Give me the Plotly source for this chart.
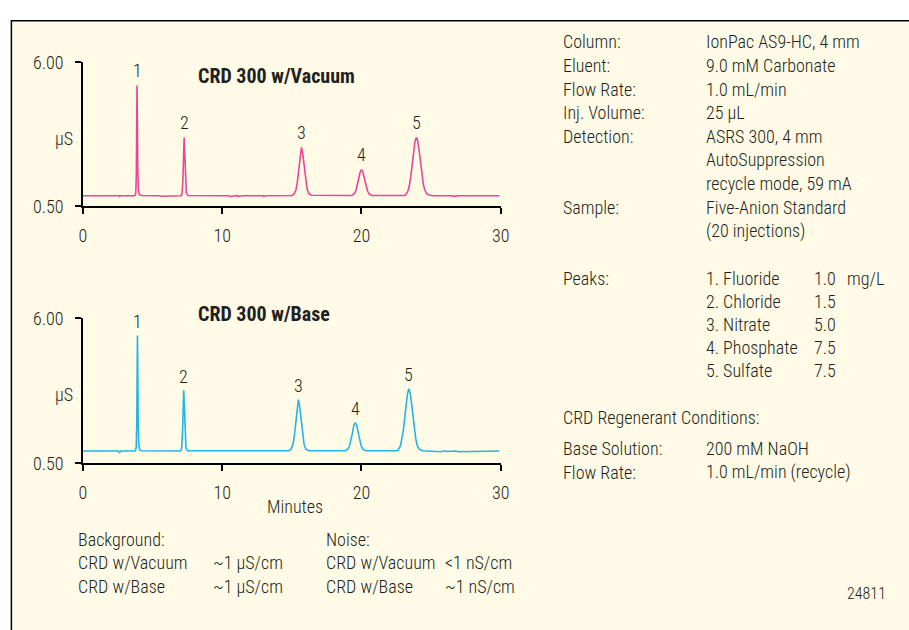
import plotly.graph_objects as go

W, H = 909, 630
FONT = "Roboto Condensed, Liberation Sans Narrow, DejaVu Sans Condensed, sans-serif"
TXT = "#231f20"
WT = 300

# ---------------- data ----------------
vac_time = [0.0, 1.0, 2.6, 2.65, 2.7, 3.6,
            3.74, 3.80, 3.84, 3.87, 3.89, 3.91, 3.94, 3.98, 4.05, 4.2,
            5.5, 5.6, 7.05, 7.12, 7.18, 7.23, 7.27, 7.31, 7.36, 7.43, 7.55,
            10.5, 10.6, 11.0, 11.1, 11.5, 12.9, 13.0, 13.1,
            15.0, 15.15, 15.3, 15.4, 15.5, 15.6, 15.69, 15.78, 15.88, 15.98, 16.1, 16.22, 16.4,
            19.3, 19.5, 19.6, 19.7, 19.8, 19.9, 20.0, 20.1, 20.2, 20.3, 20.42, 20.55, 20.75,
            23.1, 23.2, 23.34, 23.44, 23.54, 23.64, 23.74, 23.84, 23.94, 24.04, 24.14, 24.24,
            24.34, 24.44, 24.55, 24.7, 24.9, 25.2, 26.5, 26.6, 27.0, 29.9]
vac_signal = [0.90, 0.90, 0.90, 0.87, 0.90, 0.90,
              0.91, 1.00, 1.80, 3.90, 5.11, 4.00, 2.00, 1.15, 0.95, 0.91,
              0.90, 0.88, 0.90, 0.98, 1.50, 2.60, 3.12, 2.60, 1.50, 1.00, 0.91,
              0.90, 0.87, 0.91, 0.88, 0.90, 0.90, 0.87, 0.90,
              0.91, 0.96, 1.13, 1.45, 1.98, 2.50, 2.75, 2.52, 2.02, 1.52, 1.15, 0.99, 0.92,
              0.91, 0.99, 1.10, 1.29, 1.55, 1.80, 1.90, 1.81, 1.58, 1.33, 1.10, 0.97, 0.91,
              0.91, 0.95, 1.09, 1.30, 1.64, 2.10, 2.59, 2.98, 3.13, 2.99, 2.61, 2.13,
              1.68, 1.34, 1.11, 0.97, 0.92, 0.90, 0.90, 0.88, 0.90, 0.90]

base_time = [0.0, 1.0, 2.55, 2.64, 2.75, 3.6,
             3.77, 3.83, 3.87, 3.90, 3.92, 3.94, 3.97, 4.01, 4.08, 4.2,
             7.02, 7.09, 7.15, 7.20, 7.24, 7.28, 7.33, 7.40, 7.52,
             14.8, 14.93, 15.08, 15.18, 15.28, 15.38, 15.47, 15.56, 15.66, 15.76, 15.88, 16.0, 16.2,
             18.85, 19.05, 19.15, 19.25, 19.35, 19.45, 19.55, 19.65, 19.75, 19.85, 19.97, 20.1, 20.3,
             22.55, 22.65, 22.8, 22.9, 23.0, 23.1, 23.2, 23.3, 23.40, 23.5, 23.6, 23.7,
             23.8, 23.9, 24.01, 24.16, 24.36, 24.7, 25.6, 25.7, 26.0, 26.1, 26.8, 26.9, 29.9]
base_signal = [0.97, 0.97, 0.97, 0.91, 0.97, 0.97,
               0.98, 1.10, 2.00, 4.20, 5.35, 4.20, 2.10, 1.22, 1.01, 0.98,
               0.97, 1.05, 1.60, 2.75, 3.27, 2.75, 1.60, 1.08, 0.98,
               0.98, 1.03, 1.21, 1.54, 2.10, 2.64, 2.92, 2.66, 2.13, 1.59, 1.22, 1.05, 0.98,
               0.98, 1.06, 1.18, 1.37, 1.65, 1.94, 2.05, 1.95, 1.70, 1.42, 1.18, 1.03, 0.98,
               0.98, 1.02, 1.17, 1.39, 1.73, 2.21, 2.72, 3.14, 3.33, 3.15, 2.75, 2.25,
               1.78, 1.42, 1.17, 1.03, 0.98, 0.97, 0.97, 0.94, 0.98, 0.95, 0.97, 0.94, 0.97]

peak_ids = ["1", "2", "3", "4", "5"]
vac_peak_time = [3.89, 7.27, 15.69, 20.0, 23.94]
vac_peak_height = [5.11, 3.12, 2.75, 1.90, 3.13]
base_peak_time = [3.92, 7.24, 15.47, 19.55, 23.40]
base_peak_height = [5.35, 3.27, 2.92, 2.05, 3.33]

x_ticks = [0, 10, 20, 30]
y_ticks = [0.5, 6.0]
y_tick_text = ["0.50", "6.00"]

cond_labels = ["Column:", "Eluent:", "Flow Rate:", "Inj. Volume:", "Detection:", "", "", "Sample:", ""]
cond_values = ["IonPac AS9-HC, 4 mm", "9.0 mM Carbonate", "1.0 mL/min", "25 µL",
               "ASRS 300, 4 mm", "AutoSuppression", "recycle mode, 59 mA",
               "Five-Anion Standard", "(20 injections)"]
peak_names = ["1. Fluoride", "2. Chloride", "3. Nitrate", "4. Phosphate", "5. Sulfate"]
peak_conc = ["1.0", "1.5", "5.0", "7.5", "7.5"]
conc_unit = "mg/L"
regen_labels = ["Base Solution:", "Flow Rate:"]
regen_values = ["200 mM NaOH", "1.0 mL/min (recycle)"]
bg_rows = [("Background:", ""), ("CRD w/Vacuum", "~1 µS/cm"), ("CRD w/Base", "~1 µS/cm")]
noise_rows = [("Noise:", ""), ("CRD w/Vacuum", "<1 nS/cm"), ("CRD w/Base", "~1 nS/cm")]

# ---------------- helpers ----------------
def px(x):
    return x / W

def py(y):
    return 1 - y / H

fig = go.Figure()
fig.add_trace(go.Scatter(x=vac_time, y=vac_signal, mode="lines",
                         line=dict(color="#ec4595", width=1.6), xaxis="x", yaxis="y",
                         hoverinfo="skip", showlegend=False))
fig.add_trace(go.Scatter(x=base_time, y=base_signal, mode="lines",
                         line=dict(color="#22b5e6", width=1.6), xaxis="x2", yaxis="y2",
                         hoverinfo="skip", showlegend=False))

ax_common = dict(showline=True, linecolor="black", linewidth=1.5, ticks="outside",
                 ticklen=6, tickwidth=1.5, tickcolor="black", showgrid=False, zeroline=False,
                 tickfont=dict(family=FONT, size=18, color=TXT, weight=WT), fixedrange=True)
xdom = [px(80), px(504)]
fig.update_layout(
    width=W, height=H, margin=dict(l=0, r=0, t=0, b=0),
    paper_bgcolor="white", plot_bgcolor="rgba(0,0,0,0)",
    xaxis=dict(domain=xdom, range=[0, 30], tickvals=x_ticks, anchor="y",
               ticklabelstandoff=6, **ax_common),
    yaxis=dict(domain=[py(202), py(53)], range=[0.5, 6.0], tickvals=y_ticks,
               ticktext=y_tick_text, anchor="x", ticklabelstandoff=8, **ax_common),
    xaxis2=dict(domain=xdom, range=[0, 30], tickvals=x_ticks, anchor="y2",
                ticklabelstandoff=6, **ax_common),
    yaxis2=dict(domain=[py(468), py(318)], range=[0.5, 6.0], tickvals=y_ticks,
                ticktext=y_tick_text, anchor="x2", ticklabelstandoff=8, **ax_common),
    shapes=[dict(type="rect", xref="paper", yref="paper", x0=px(7.5), x1=1.05,
                 y0=-0.05, y1=py(10), fillcolor="#fffbe7",
                 line=dict(color="black", width=1.5), layer="below")],
)

ann = []
def text(x, y, s, size=18, anchor="left", bold=False):
    ann.append(dict(x=px(x), y=py(y), xref="paper", yref="paper",
                    text=f"<b>{s}</b>" if bold else s,
                    showarrow=False, xanchor=anchor, yanchor="middle",
                    font=dict(family=FONT, size=size, color=TXT, weight=700 if bold else WT)))

for i, pid in enumerate(peak_ids):
    ann.append(dict(x=vac_peak_time[i], y=vac_peak_height[i], xref="x", yref="y", text=pid,
                    showarrow=False, yanchor="middle", yshift=15,
                    font=dict(family=FONT, size=18, color=TXT, weight=WT)))
    ann.append(dict(x=base_peak_time[i], y=base_peak_height[i], xref="x2", yref="y2", text=pid,
                    showarrow=False, yanchor="middle", yshift=14,
                    font=dict(family=FONT, size=18, color=TXT, weight=WT)))

text(276, 67, "CRD 300 w/Vacuum", 20, "center", True)
text(264, 313, "CRD 300 w/Base", 20, "center", True)
text(61, 132, "µS", 18, "center")
text(61, 397, "µS", 18, "center")
text(295, 513, "Minutes", 18, "center")

for i, (lab, val) in enumerate(zip(cond_labels, cond_values)):
    y = 32 + i * 24.4
    if lab:
        text(565, y, lab)
    text(710, y, val)
text(565, 277, "Peaks:")
for i, (nm, c) in enumerate(zip(peak_names, peak_conc)):
    y = 277 + i * 23.8
    text(710, y, nm)
    text(820, y, c)
text(853, 277, conc_unit)
text(565, 421, "CRD Regenerant Conditions:")
for i, (lab, val) in enumerate(zip(regen_labels, regen_values)):
    y = 453 + i * 24
    text(565, y, lab)
    text(710, y, val)

for i, ((a, b), (c, d)) in enumerate(zip(bg_rows, noise_rows)):
    y = 547 + i * 24
    text(73, y, a)
    if b:
        text(210, y, b)
    text(325, y, c)
    if d:
        text(445, y, d)
text(897, 603, "24811", 16, "right")

fig.update_layout(annotations=ann)
fig.write_html("out.html", config={"displayModeBar": False},
               post_script="document.body.style.margin='0';")
